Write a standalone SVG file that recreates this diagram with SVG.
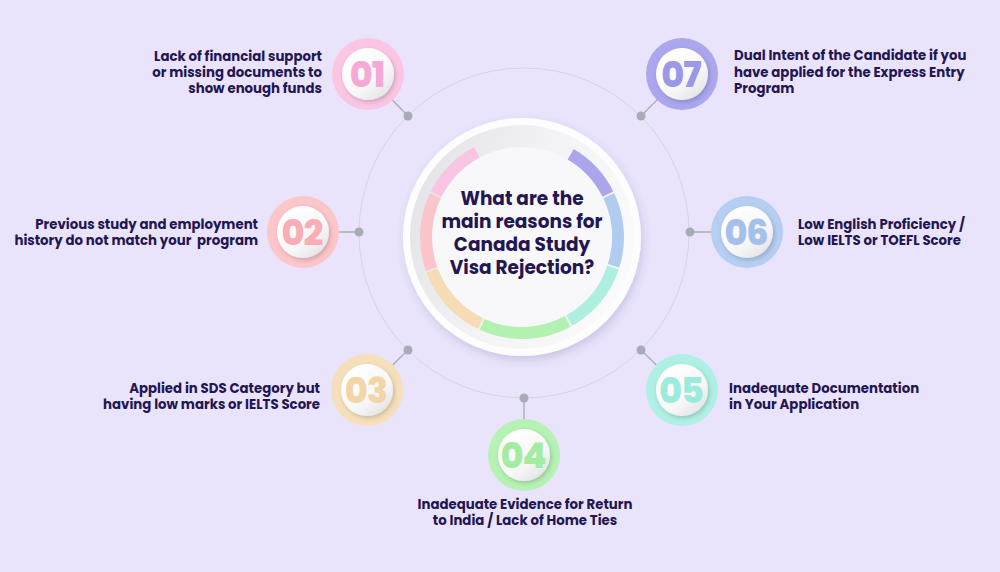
<svg xmlns="http://www.w3.org/2000/svg" width="1000" height="572" viewBox="0 0 1000 572">
<defs>
<style>
.lbl{font-family:"Poppins","Open Sans","Liberation Sans",sans-serif;font-weight:700;font-size:13.3px;fill:#231652}
.ttl{font-family:"Poppins","Open Sans","Liberation Sans",sans-serif;font-weight:700;font-size:18.5px;fill:#231652;text-anchor:middle}
.num{font-family:"Poppins","Open Sans","Liberation Sans",sans-serif;font-weight:800;font-size:35px;text-anchor:middle;letter-spacing:-1px}
.dot{fill:#a8abb6}
.ln{stroke:#a8abb6;stroke-width:1.3;fill:none}
.arc{fill:none;stroke-width:12}
.inner{fill:url(#wg);filter:url(#sh)}
.pre{white-space:pre}
</style>
<linearGradient id="wg" x1="0.2" y1="0.1" x2="0.9" y2="0.95">
<stop offset="0" stop-color="#ffffff"/>
<stop offset="0.6" stop-color="#f7f7f8"/>
<stop offset="1" stop-color="#e2e2e6"/>
</linearGradient>
<linearGradient id="dg" x1="0" y1="0.3" x2="1" y2="0.7">
<stop offset="0" stop-color="#e4e4e8"/>
<stop offset="0.5" stop-color="#f4f4f6"/>
<stop offset="1" stop-color="#fbfbfc"/>
</linearGradient>
<filter id="sh" x="-30%" y="-30%" width="160%" height="160%">
<feDropShadow dx="1.5" dy="2" stdDeviation="2" flood-color="#000" flood-opacity="0.18"/>
</filter>
<filter id="bsh" x="-20%" y="-20%" width="140%" height="140%">
<feDropShadow dx="2" dy="4" stdDeviation="4" flood-color="#5a4a90" flood-opacity="0.2"/>
</filter>
</defs>
<rect width="1000" height="572" fill="#e9e4fc"/>

<g id="connectors">
<circle cx="524" cy="233" r="165" fill="none" stroke="#d6d3e6" stroke-width="1"/>
<line class="ln" x1="408" y1="116" x2="368" y2="75"/>
<line class="ln" x1="359" y1="232" x2="303" y2="232"/>
<line class="ln" x1="408" y1="350" x2="367" y2="390"/>
<line class="ln" x1="524" y1="398" x2="524" y2="455"/>
<line class="ln" x1="641" y1="350" x2="682" y2="390"/>
<line class="ln" x1="690" y1="232" x2="747" y2="232"/>
<line class="ln" x1="641" y1="116" x2="682" y2="75"/>
<circle class="dot" cx="408" cy="116" r="4.5"/>
<circle class="dot" cx="359" cy="232" r="4.5"/>
<circle class="dot" cx="408" cy="350" r="4.5"/>
<circle class="dot" cx="524" cy="398" r="4.5"/>
<circle class="dot" cx="641" cy="350" r="4.5"/>
<circle class="dot" cx="690" cy="232" r="4.5"/>
<circle class="dot" cx="641" cy="116" r="4.5"/>
</g>

<g id="center">
<circle cx="522" cy="237" r="119" fill="#fdfdfd" filter="url(#bsh)"/>
<circle cx="522" cy="237" r="112" fill="url(#dg)"/>
<circle cx="522" cy="237" r="90" fill="#f8f8fa"/>
<path class="arc" stroke="#a9a6ec" d="M570.72,154.29 A96,96 0 0 1 607.91,194.16"/>
<path class="arc" stroke="#b2ccf1" d="M608.65,195.67 A96,96 0 0 1 613.56,265.87"/>
<path class="arc" stroke="#aeefe2" d="M613.04,267.46 A96,96 0 0 1 569.27,320.56"/>
<path class="arc" stroke="#b2f1b0" d="M567.81,321.36 A96,96 0 0 1 482.19,324.36"/>
<path class="arc" stroke="#f6dcb6" d="M480.67,323.65 A96,96 0 0 1 432.08,270.62"/>
<path class="arc" stroke="#fbc6ca" d="M431.51,269.04 A96,96 0 0 1 435.35,195.67"/>
<path class="arc" stroke="#f9c5e2" d="M436.09,194.16 A96,96 0 0 1 476.93,152.24"/>
<text class="ttl" x="522" y="205">What are the</text>
<text class="ttl" x="522" y="228">main reasons for</text>
<text class="ttl" x="522" y="251">Canada Study</text>
<text class="ttl" x="522" y="274">Visa Rejection?</text>
</g>

<g id="n01">
<circle cx="368" cy="74" r="36" fill="#fbc6e3"/>
<circle class="inner" cx="368" cy="74" r="26"/>
<text class="num" x="367" y="87" fill="#f7a9d5">01</text>
<text class="lbl" text-anchor="end"><tspan x="322" y="61">Lack of financial support</tspan><tspan x="322" y="77">or missing documents to</tspan><tspan x="322" y="93">show enough funds</tspan></text>
</g>

<g id="n02">
<circle cx="303" cy="232" r="36" fill="#fcc6ca"/>
<circle class="inner" cx="303" cy="232" r="26"/>
<text class="num" x="302" y="245" fill="#f9aeb5">02</text>
<text class="lbl pre" text-anchor="end" xml:space="preserve"><tspan x="258" y="229">Previous study and employment</tspan><tspan x="258" y="245">history do not match your  program</tspan></text>
</g>

<g id="n03">
<circle cx="367" cy="390" r="36" fill="#f6e0bb"/>
<circle class="inner" cx="367" cy="390" r="26"/>
<text class="num" x="366" y="403" fill="#f3d5a8">03</text>
<text class="lbl" text-anchor="end"><tspan x="320" y="393">Applied in SDS Category but</tspan><tspan x="320" y="409">having low marks or IELTS Score</tspan></text>
</g>

<g id="n04">
<circle cx="524" cy="455" r="36" fill="#b6f2b4"/>
<circle class="inner" cx="524" cy="455" r="26"/>
<text class="num" x="523" y="468" fill="#a5eca3">04</text>
<text class="lbl" text-anchor="middle"><tspan x="525" y="509">Inadequate Evidence for Return</tspan><tspan x="525" y="525">to India / Lack of Home Ties</tspan></text>
</g>

<g id="n05">
<circle cx="682" cy="390" r="36" fill="#b0f0e4"/>
<circle class="inner" cx="682" cy="390" r="26"/>
<text class="num" x="681" y="403" fill="#9debdc">05</text>
<text class="lbl"><tspan x="729" y="393">Inadequate Documentation</tspan><tspan x="729" y="409">in Your Application</tspan></text>
</g>

<g id="n06">
<circle cx="747" cy="232" r="36" fill="#b5cef2"/>
<circle class="inner" cx="747" cy="232" r="26"/>
<text class="num" x="746" y="245" fill="#a3c1ec">06</text>
<text class="lbl"><tspan x="798" y="229">Low English Proficiency /</tspan><tspan x="798" y="245">Low IELTS or TOEFL Score</tspan></text>
</g>

<g id="n07">
<circle cx="682" cy="74" r="36" fill="#aaa7ee"/>
<circle class="inner" cx="682" cy="74" r="26"/>
<text class="num" x="681" y="87" fill="#9c98e8">07</text>
<text class="lbl"><tspan x="734" y="60">Dual Intent of the Candidate if you</tspan><tspan x="734" y="77">have applied for the Express Entry</tspan><tspan x="734" y="93">Program</tspan></text>
</g>
</svg>
